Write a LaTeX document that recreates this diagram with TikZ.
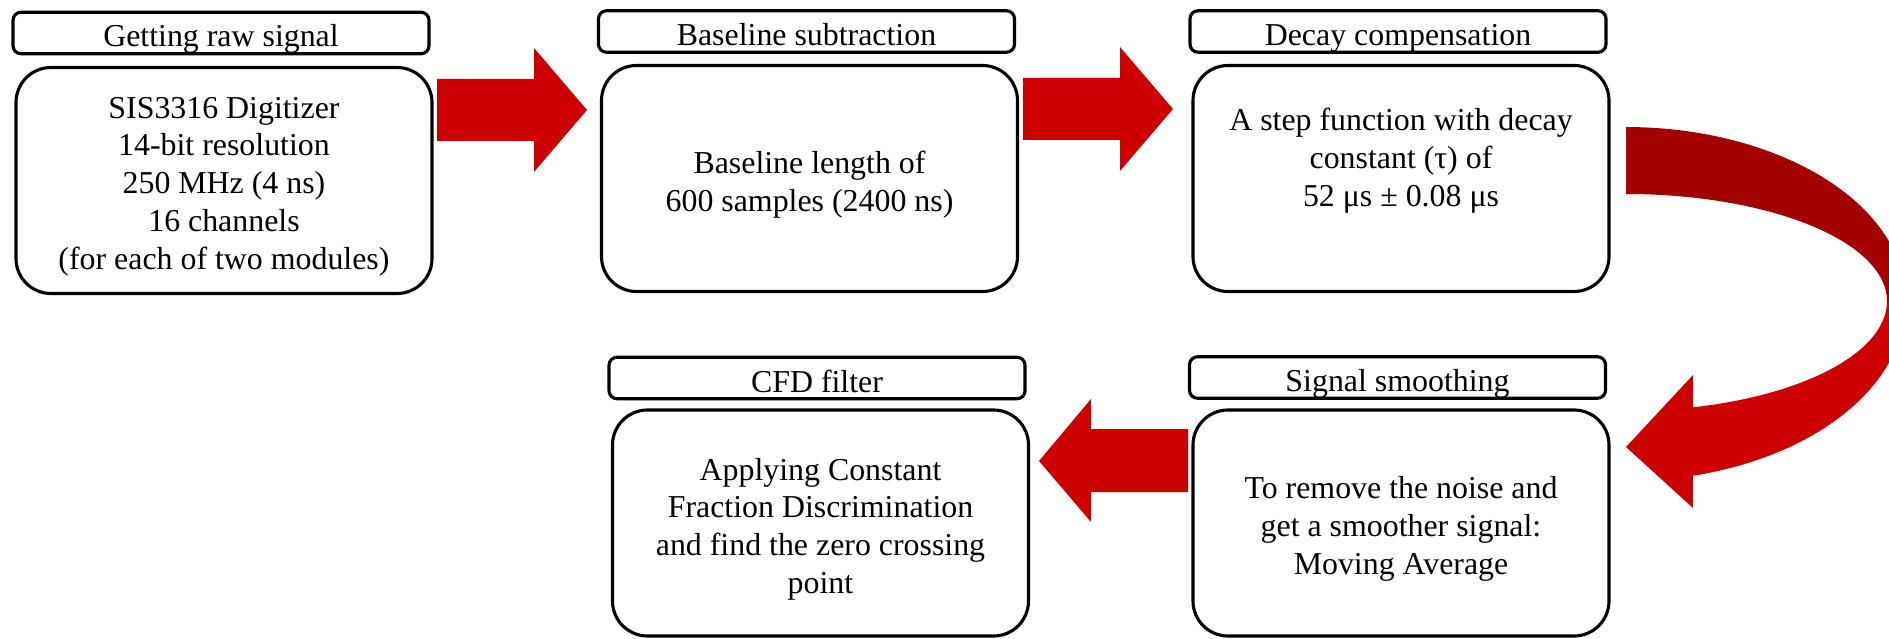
\documentclass[tikz,border=0pt]{standalone}
\usepackage{fontspec}
\setmainfont{Liberation Serif}
\definecolor{arrred}{HTML}{CC0000}
\definecolor{arrdark}{HTML}{A30000}
\begin{document}
\begin{tikzpicture}[x=0.4pt,y=-0.4pt,
  txt/.style={font=\fontsize{12.75pt}{15.1pt}\selectfont},
  titlebox/.style={txt,draw,line width=1.25pt,rounded corners=3.2pt,
    minimum width=166.4pt,minimum height=16.6pt,inner sep=0pt,
    text height=11.5pt,text depth=0.3pt},
  mainbox/.style={draw,line width=1.25pt,rounded corners=14pt,
    minimum width=166.4pt,minimum height=90.4pt,inner sep=0pt},
  maintext/.style={txt,align=center,inner sep=0pt},
  blockarrow/.style={fill=arrred,draw=none}]
\useasboundingbox (0,0) rectangle (1889,639);
\clip (0,0) rectangle (1889,639);
\fill[white] (0,0) rectangle (1889,639);

% top row
\node[titlebox] (t1) at (221,33) {Getting raw signal};
\node[mainbox] (m1) at (224,180.5) {};
\node[maintext,yshift=-2.4pt] (m1t) at (m1.center) {SIS3316 Digitizer\\14-bit resolution\\250 MHz (4 ns)\\16 channels\\(for each of two modules)};
\node[titlebox] (t2) at (806.5,31.5) {Baseline subtraction};
\node[mainbox] (m2) at (809.5,178.5) {};
\node[maintext,yshift=-2.4pt] (m2t) at (m2.center) {Baseline length of\\600 samples (2400 ns)};
\node[titlebox] (t3) at (1398,31.5) {Decay compensation};
\node[mainbox] (m3) at (1401,178.5) {};
\node[maintext,yshift=7.2pt] (m3t) at (m3.center) {A step function with decay\\constant (τ) of\\52 μs ± 0.08 μs};

% bottom row
\node[titlebox] (t4) at (817,378) {CFD filter};
\node[mainbox] (m4) at (820.5,523) {};
\node[maintext,yshift=-2.4pt] (m4t) at (m4.center) {Applying Constant\\Fraction Discrimination\\and find the zero crossing\\point};
\node[titlebox] (t5) at (1397.5,377.5) {Signal smoothing};
\node[mainbox] (m5) at (1401,523) {};
\node[maintext,yshift=-2.4pt] (m5t) at (m5.center) {To remove the noise and\\get a smoother signal:\\Moving Average};

% straight block arrows
\fill[blockarrow] (437,79) -- (534,79) -- (534,48) -- (587,110) -- (534,172) -- (534,141) -- (437,141) -- cycle;
\fill[blockarrow] (1023,78) -- (1120,78) -- (1120,47) -- (1173,109) -- (1120,171) -- (1120,140) -- (1023,140) -- cycle;
\fill[blockarrow] (1188,429) -- (1091,429) -- (1091,399) -- (1039,461) -- (1091,522) -- (1091,492) -- (1188,492) -- cycle;

% curved arrow: upper (dark) part
\fill[arrdark] plot[domain=-90:0.5,samples=50] ({1626+280*cos(\x)},{301+174*sin(\x)})
  -- plot[domain=0.5:-90,samples=50] ({1626+261*cos(\x)},{301+107*sin(\x)}) -- cycle;
% curved arrow: lower (bright) part with head
\fill[arrred] plot[domain=0:76.2,samples=50] ({1626+280*cos(\x)},{301+180*sin(\x)})
  -- (1693,508) -- (1626,447) -- (1693,375)
  -- plot[domain=75.1:0,samples=50] ({1626+261*cos(\x)},{301+110*sin(\x)}) -- cycle;
\end{tikzpicture}
\end{document}
